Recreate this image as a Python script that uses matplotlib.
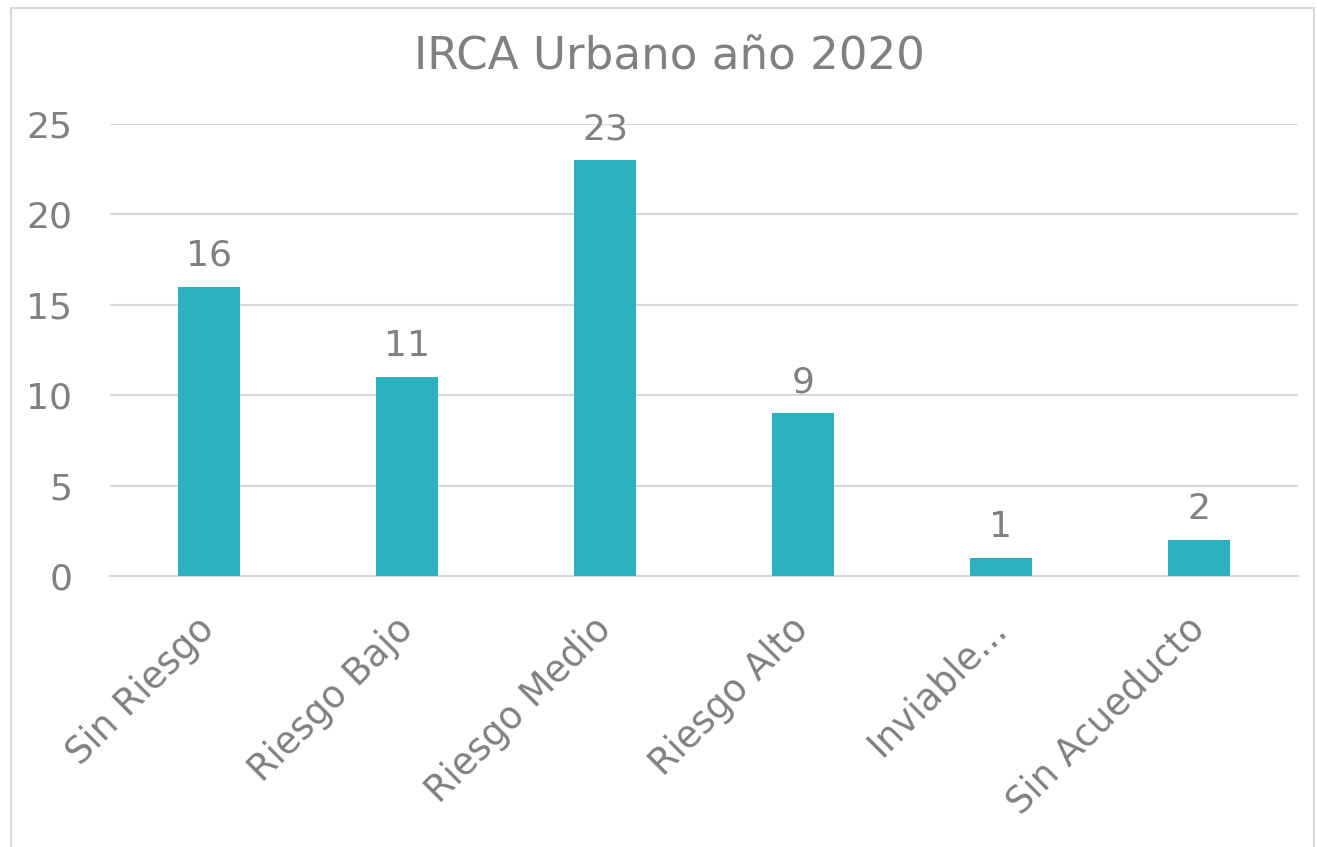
import matplotlib.pyplot as plt
from matplotlib.patches import Rectangle

categorias = ["Sin Riesgo", "Riesgo Bajo", "Riesgo Medio", "Riesgo Alto", "Inviable...", "Sin Acueducto"]
valores = [16, 11, 23, 9, 1, 2]
ticks_y = [0, 5, 10, 15, 20, 25]

gris = "#808080"
color_barra = "#2EB1BF"

plt.rcParams['font.family'] = ['DejaVu Sans']

fig = plt.figure(figsize=(13.17, 8.47), dpi=100)
ax = fig.add_axes([0.0835, 0.320, 0.902, 0.5336])

x = range(len(categorias))
ax.bar(x, valores, width=0.31, color=color_barra, zorder=3)

for xi, v in zip(x, valores):
    ax.annotate(str(v), (xi, v), xytext=(0, 10), textcoords="offset points",
                ha="center", va="bottom", fontsize=26, color=gris)

ax.set_xlim(-0.5, len(categorias) - 0.5)
ax.set_ylim(0, 25)
ax.set_yticks(ticks_y)
ax.set_yticklabels([str(t) for t in ticks_y], fontsize=26, color=gris)
ax.set_xticks(list(x))
ax.set_xticklabels(categorias, rotation=45, ha="right", va="center",
                   rotation_mode="anchor", fontsize=26.5, color=gris)
ax.tick_params(axis="both", length=0)
ax.tick_params(axis="x", pad=34)
ax.tick_params(axis="y", pad=27)

ax.grid(axis="y", color="#d9d9d9", linewidth=1.5, zorder=0)
for s in ["top", "right", "left"]:
    ax.spines[s].set_visible(False)
ax.spines["bottom"].set_color("#d9d9d9")
ax.spines["bottom"].set_linewidth(1.5)

fig.text(0.508, 0.933, "IRCA Urbano año 2020", ha="center", va="center",
         fontsize=32.5, color=gris)

fig.add_artist(Rectangle((11 / 1317, -0.05), 1303 / 1317, 1.05 - 8 / 847,
                         transform=fig.transFigure, fill=False,
                         edgecolor="#d9d9d9", linewidth=1.5, clip_on=False))

fig.savefig("out.png", dpi=100)
